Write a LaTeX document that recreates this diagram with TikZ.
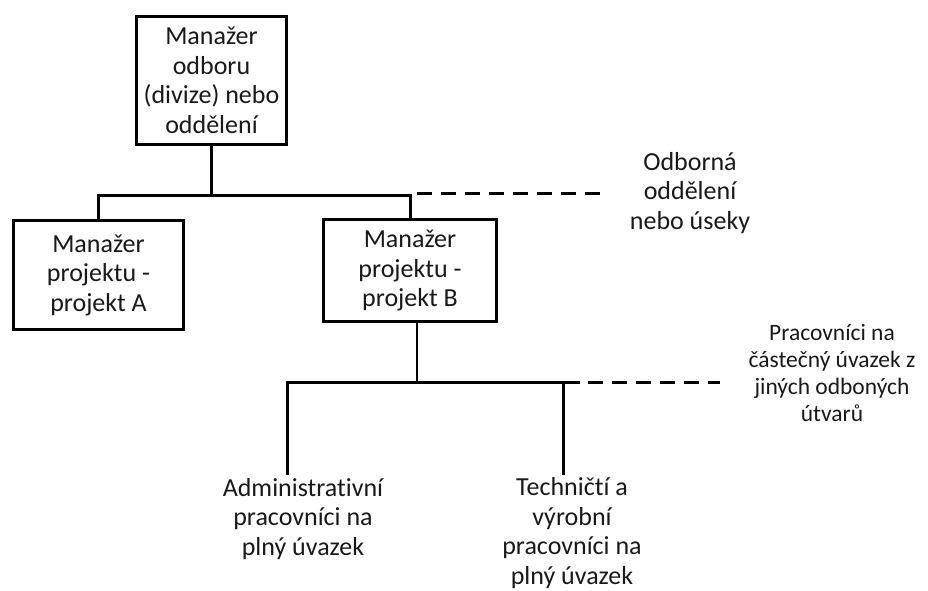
\documentclass[tikz,border=0pt]{standalone}
\usepackage{fontspec}
\setmainfont{Carlito}[Ligatures=NoCommon]
\begin{document}
\begin{tikzpicture}[x=1pt,y=-1pt,
  txt/.style={text=black!90, align=center, inner sep=0pt,
    font=\fontsize{26}{29.5}\selectfont},
  smalltxt/.style={text=black!90, align=center, inner sep=0pt,
    font=\fontsize{23.5}{27}\selectfont},
  orgbox/.style={draw=black, line width=3pt, fill=white, align=center,
    text=black!90, inner sep=2pt, font=\fontsize{26}{29.5}\selectfont},
  conn/.style={draw=black, line width=3pt},
  thinconn/.style={draw=black, line width=2pt},
  dashconn/.style={draw=black, line width=3pt, dash pattern=on 15pt off 9pt}]
\useasboundingbox (0,0) rectangle (928,590);

% boxes
\node[orgbox, minimum width=150pt, minimum height=128pt] (top) at (211.5,80.5)
  {Manažer\\odboru\\(divize) nebo\\oddělení};
\node[orgbox, minimum width=170pt, minimum height=109pt] (pmA) at (98.5,275)
  {Manažer\\projektu -\\projekt A};
\node[orgbox, minimum width=173pt, minimum height=102pt] (pmB) at (410,270.5)
  {Manažer\\projektu -\\projekt B};

% free labels
\node[txt] (odb) at (690,193) {Odborná\\oddělení\\nebo úseky};
\node[smalltxt] (prac) at (832,373) {Pracovníci na\\částečný úvazek z\\jiných odboných\\útvarů};
\node[txt] (adm) at (303,519) {Administrativní\\pracovníci na\\plný úvazek};
\node[txt] (tech) at (572,533) {Techničtí a\\výrobní\\pracovníci na\\plný úvazek};

% upper branch
\coordinate (bus1) at (211.5,195);
\draw[conn] (top.south) -- (top.south |- bus1);
\draw[conn, line cap=rect] (pmA.north) |- (pmB.north |- bus1) -- (pmB.north);
\coordinate (d1a) at (417,193);
\coordinate (d1b) at (600,193);
\draw[dashconn] (d1a) -- (d1b);

% lower branch
\coordinate (bus2) at (417,382);
\draw[thinconn] ([xshift=7pt]pmB.south) -- (bus2);
\coordinate (bl) at (287,382);
\coordinate (br) at (578,382);
\draw[conn, line cap=rect] (bl) -- (br);
\coordinate (admtop) at (287,475);
\coordinate (techtop) at (563,475);
\draw[conn] (bl) -- (admtop);
\draw[conn] (techtop |- bus2) -- (techtop);
\coordinate (d2a) at (588,382);
\coordinate (d2b) at (720,382);
\draw[dashconn] (d2a) -- (d2b);
\end{tikzpicture}
\end{document}
